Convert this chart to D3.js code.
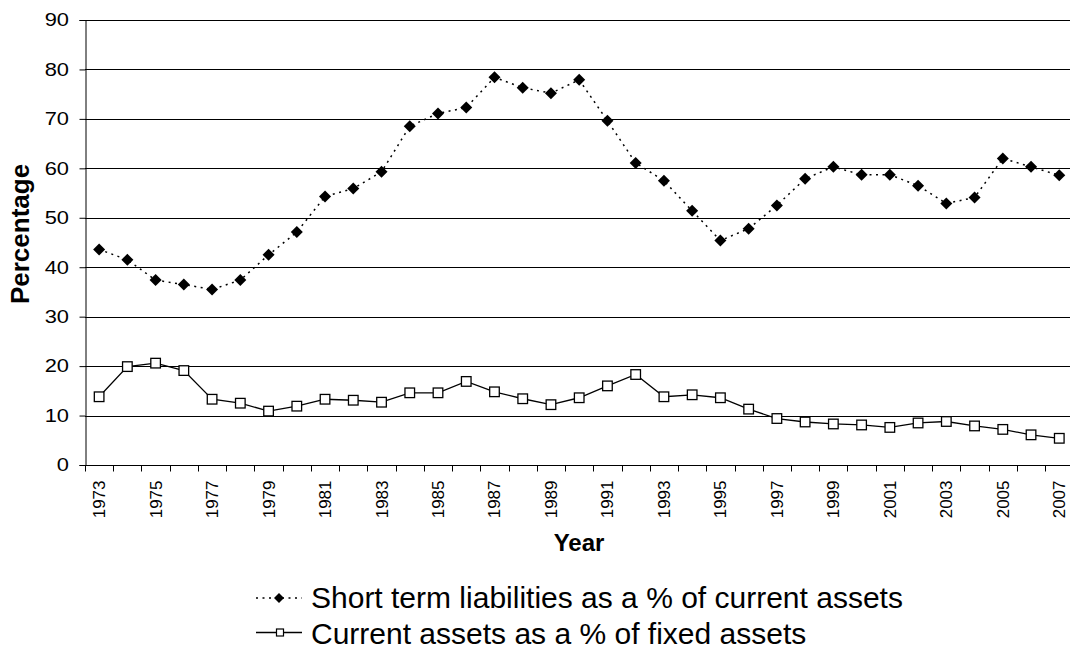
<!DOCTYPE html>
<html>
<head>
<meta charset="utf-8">
<script src="https://cdn.jsdelivr.net/npm/d3@7/dist/d3.min.js"></script>
<style>
  body { margin: 0; background: #fff; }
  svg { display: block; font-family: "Liberation Sans", Arial, sans-serif; }
</style>
</head>
<body>
<svg id="chart" width="1070" height="652"></svg>
<script>
const years = d3.range(1973, 2008).map(String);
const shortTermLiabilities = [43.6, 41.5, 37.4, 36.5, 35.5, 37.4, 42.5, 47.1, 54.3, 55.9, 59.3, 68.5,
  71.1, 72.3, 78.4, 76.3, 75.2, 77.9, 69.6, 61.1, 57.5, 51.4, 45.4, 47.8, 52.5, 57.9, 60.3, 58.7,
  58.7, 56.5, 52.9, 54.1, 62.0, 60.3, 58.6];
const currentAssets = [13.8, 19.9, 20.6, 19.1, 13.3, 12.5, 10.9, 11.9, 13.3, 13.1, 12.7, 14.6,
  14.6, 16.9, 14.8, 13.4, 12.2, 13.6, 16.0, 18.3, 13.8, 14.2, 13.6, 11.3, 9.4, 8.7, 8.3, 8.1,
  7.6, 8.5, 8.8, 7.9, 7.2, 6.1, 5.4];
const yTicks = [0, 10, 20, 30, 40, 50, 60, 70, 80, 90];
const seriesNames = ["Short term liabilities as a % of current assets", "Current assets as a % of fixed assets"];

const svg = d3.select("#chart");
const mLeft = 85, mRight = 1073.4, mTop = 20, mBottom = 465;

const x = d3.scaleBand().domain(years).range([mLeft, mRight]).padding(0);
const y = d3.scaleLinear().domain([0, 90]).range([mBottom, mTop]);
const cx = d => x(d) + x.bandwidth() / 2;

// gridlines
svg.append("g").selectAll("line").data(yTicks.filter(d => d > 0)).join("line")
  .attr("x1", mLeft).attr("x2", 1070)
  .attr("y1", d => Math.round(y(d)) + 0.5).attr("y2", d => Math.round(y(d)) + 0.5)
  .attr("stroke", "#000").attr("stroke-width", 1);

// y axis (line + ticks from d3 axis, labels drawn wider)
const yAxis = svg.append("g").attr("transform", `translate(${mLeft + 0.5},0)`)
  .call(d3.axisLeft(y).tickValues(yTicks).tickSize(6).tickFormat(""));
yAxis.select(".domain").attr("stroke", "#000");
yAxis.selectAll(".tick line").attr("stroke", "#000");
svg.append("g").selectAll("text").data(yTicks).join("text")
  .attr("transform", d => `translate(69,${y(d)}) scale(1.25,1)`)
  .attr("dy", "0.36em").attr("text-anchor", "end").attr("font-size", 17.5).attr("fill", "#000")
  .text(d => d3.format("d")(d));

// x axis
const xAxisG = svg.append("g").attr("transform", `translate(0,${mBottom + 0.5})`);
xAxisG.append("line").attr("x1", mLeft).attr("x2", 1070).attr("y1", 0).attr("y2", 0).attr("stroke", "#000");
xAxisG.selectAll("line.tk").data(years).join("line").attr("class", "tk")
  .attr("x1", d => Math.round(x(d)) + 0.5).attr("x2", d => Math.round(x(d)) + 0.5)
  .attr("y1", 0).attr("y2", 6).attr("stroke", "#000");
xAxisG.selectAll("text").data(years.filter((d, i) => i % 2 === 0)).join("text")
  .attr("transform", d => `translate(${cx(d) + 6},15) rotate(-90)`)
  .attr("text-anchor", "end").attr("font-size", 17).attr("fill", "#000")
  .text(d => d);

// axis titles
svg.append("text").attr("x", 579).attr("y", 551).attr("text-anchor", "middle")
  .attr("font-size", 24).attr("font-weight", "bold").text("Year");
svg.append("text").attr("transform", "translate(29,234) rotate(-90)").attr("text-anchor", "middle")
  .attr("font-size", 26).attr("font-weight", "bold").text("Percentage");

const lineGen = d3.line().x((d, i) => cx(years[i])).y(d => y(d));

// series 1: dotted with diamonds
svg.append("path").datum(shortTermLiabilities).attr("d", lineGen)
  .attr("fill", "none").attr("stroke", "#000").attr("stroke-width", 1.5).attr("stroke-dasharray", "2,4.5");
const diamond = d3.symbol().type(d3.symbolDiamond2).size(92);
svg.append("g").selectAll("path").data(shortTermLiabilities).join("path")
  .attr("transform", (d, i) => `translate(${cx(years[i])},${y(d)})`)
  .attr("d", diamond).attr("fill", "#000");

// series 2: solid with squares
svg.append("path").datum(currentAssets).attr("d", lineGen)
  .attr("fill", "none").attr("stroke", "#000").attr("stroke-width", 1.3);
svg.append("g").selectAll("rect").data(currentAssets).join("rect")
  .attr("x", (d, i) => cx(years[i]) - 4.8).attr("y", d => y(d) - 4.8)
  .attr("width", 9.6).attr("height", 9.6)
  .attr("fill", "#fff").attr("stroke", "#000").attr("stroke-width", 1.3);

// legend
const lg = svg.append("g");
lg.append("line").attr("x1", 256).attr("x2", 302).attr("y1", 598).attr("y2", 598)
  .attr("stroke", "#000").attr("stroke-width", 1.5).attr("stroke-dasharray", "2,4.5");
lg.append("path").attr("transform", "translate(279,598)").attr("d", d3.symbol().type(d3.symbolDiamond2).size(64)).attr("fill", "#000");
lg.append("text").attr("x", 311).attr("y", 607.5).attr("font-size", 30).text(seriesNames[0]);
lg.append("line").attr("x1", 256).attr("x2", 302).attr("y1", 632.5).attr("y2", 632.5)
  .attr("stroke", "#000").attr("stroke-width", 1.3);
lg.append("rect").attr("x", 276.5).attr("y", 629).attr("width", 7).attr("height", 7)
  .attr("fill", "#fff").attr("stroke", "#000").attr("stroke-width", 1.2);
lg.append("text").attr("x", 311).attr("y", 644).attr("font-size", 30).text(seriesNames[1]);
</script>
</body>
</html>
